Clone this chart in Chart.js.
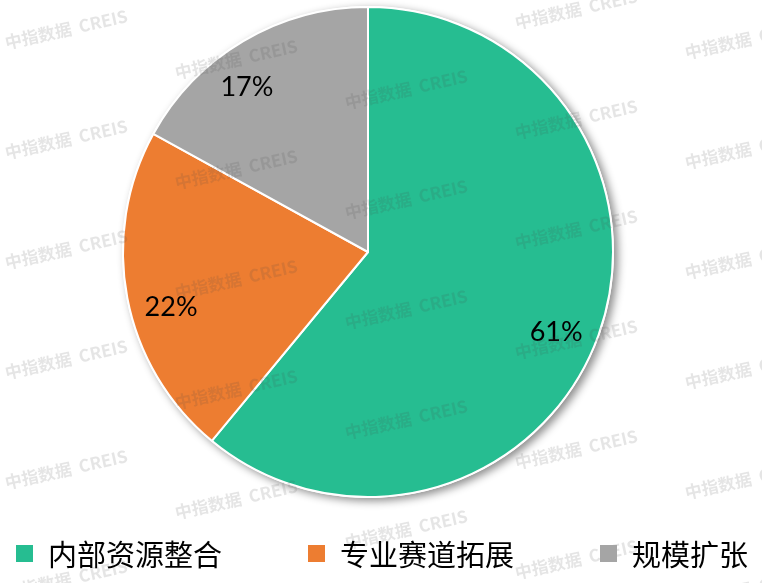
<!DOCTYPE html>
<html>
<head>
<meta charset="utf-8">
<script src="https://cdn.jsdelivr.net/npm/chart.js@4"></script>
<style>
  body { margin: 0; background: #fff; }
  #wrap { position: relative; width: 762px; height: 583px; }
  #legend {
    position: absolute; left: 16px; top: 533px; height: 40px;
    display: flex; align-items: center; gap: 86px;
    font-family: "Noto Sans CJK SC", sans-serif; font-size: 29px; color: #000;
  }
  .item { display: flex; align-items: center; white-space: nowrap; }
  .box { width: 17px; height: 17px; margin-right: 15px; }
</style>
</head>
<body>
<div id="wrap">
  <canvas id="pie"></canvas>
  <div id="legend"></div>
</div>
<script>
const categories = ["内部资源整合", "专业赛道拓展", "规模扩张"];
const shares = [61, 22, 17];
const colors = ["#26BD91", "#ED7D31", "#A5A5A5"];
// small angle nudges (degrees) so labels sit where the original put them
const labelNudge = [3.3, -4.9, -5.7];

// legend
const legend = document.getElementById("legend");
categories.forEach((c, i) => {
  const it = document.createElement("div");
  it.className = "item";
  it.innerHTML = `<span class="box" style="background:${colors[i]}"></span><span>${c}</span>`;
  legend.appendChild(it);
});

const shadowPlugin = {
  id: "pieShadow",
  beforeDatasetsDraw(chart) {
    const arc = chart.getDatasetMeta(0).data[0];
    if (!arc) return;
    const ctx = chart.ctx;
    ctx.save();
    ctx.shadowColor = "rgba(0,0,0,0.45)";
    ctx.shadowBlur = 9;
    ctx.shadowOffsetX = 4;
    ctx.shadowOffsetY = 3;
    ctx.fillStyle = "#fff";
    ctx.beginPath();
    ctx.arc(arc.x, arc.y, arc.outerRadius + 1, 0, Math.PI * 2);
    ctx.fill();
    ctx.restore();
  }
};

const labelPlugin = {
  id: "pctLabels",
  afterDatasetsDraw(chart) {
    const ctx = chart.ctx;
    ctx.save();
    ctx.font = "27px Lato, 'Open Sans', sans-serif";
    ctx.fillStyle = "#000";
    ctx.textAlign = "center";
    ctx.textBaseline = "middle";
    chart.getDatasetMeta(0).data.forEach((a, i) => {
      const mid = (a.startAngle + a.endAngle) / 2 + labelNudge[i] * Math.PI / 180;
      const r = a.outerRadius * 0.835;
      ctx.fillText(shares[i] + "%", a.x + Math.cos(mid) * r, a.y + Math.sin(mid) * r);
    });
    ctx.restore();
  }
};

const watermark = {
  id: "watermark",
  afterDraw(chart) {
    const ctx = chart.ctx;
    ctx.save();
    ctx.font = "bold 17px 'Noto Sans CJK SC', sans-serif";
    ctx.fillStyle = "rgba(70,70,70,0.14)";
    ctx.textBaseline = "middle";
    for (let c = 0; c < 5; c++) {
      for (let k = -1; k < 6; k++) {
        const x = 5 + 170 * c, y = 43 + 30 * c + 110 * k;
        if (y < -30 || y > 610) continue;
        ctx.save();
        ctx.translate(x, y);
        ctx.rotate(-12.6 * Math.PI / 180);
        ctx.fillText("中指数据  CREIS", 0, 0);
        ctx.restore();
      }
    }
    ctx.restore();
  }
};

new Chart(document.getElementById("pie"), {
  type: "pie",
  data: {
    labels: categories,
    datasets: [{
      data: shares,
      backgroundColor: colors,
      borderColor: "#fff",
      borderWidth: 2
    }]
  },
  options: {
    responsive: true,
    maintainAspectRatio: false,
    animation: false,
    layout: { padding: { top: 6, left: 0, right: 26, bottom: 85 } },
    plugins: {
      legend: { display: false },
      tooltip: { enabled: false }
    }
  },
  plugins: [shadowPlugin, labelPlugin, watermark]
});
</script>
</body>
</html>
